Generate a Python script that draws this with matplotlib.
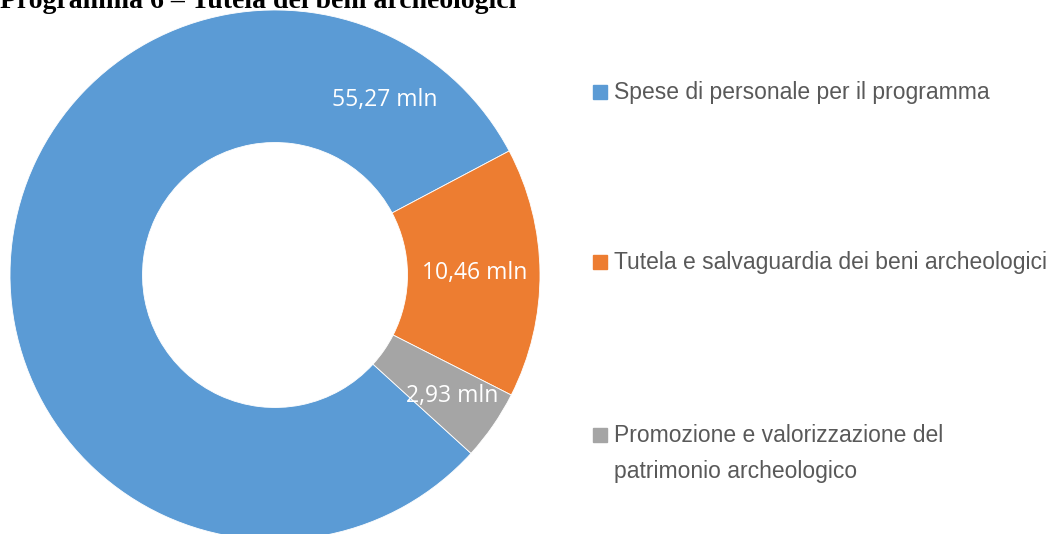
import matplotlib.pyplot as plt
import numpy as np

TITLE = "Programma 6 – Tutela dei beni archeologici"
CATEGORIES = [
    "Spese di personale per il programma",
    "Tutela e salvaguardia dei beni archeologici",
    "Promozione e valorizzazione del\npatrimonio archeologico",
]
VALUES = [55.27, 10.46, 2.93]
LABELS = ["55,27 mln", "10,46 mln", "2,93 mln"]
COLORS = ["#5B9BD5", "#ED7D31", "#A5A5A5"]

W, H = 1054, 534
fig = plt.figure(figsize=(W / 100, H / 100), dpi=100)

cx, cy, r = 275, 259, 265
ax = fig.add_axes([(cx - r) / W, (cy - r) / H, 2 * r / W, 2 * r / H])

start = 317.7
wedges, _ = ax.pie(
    VALUES,
    colors=COLORS,
    startangle=start,
    counterclock=False,
    radius=1.0,
    wedgeprops=dict(width=0.5, edgecolor="white", linewidth=0.6),
)
ax.set_xlim(-1, 1)
ax.set_ylim(-1, 1)
ax.set_aspect("equal")

# label positions: blue uses Excel's best-fit spot, others sit mid-wedge
label_pos = []
for w in wedges:
    mid = np.deg2rad((w.theta1 + w.theta2) / 2)
    label_pos.append((0.755 * np.cos(mid), 0.755 * np.sin(mid)))
label_pos[0] = (0.78 * np.cos(np.deg2rad(57.8)), 0.78 * np.sin(np.deg2rad(57.8)))
label_pos[2] = (0.81 * np.cos(np.deg2rad(-34.4)), 0.81 * np.sin(np.deg2rad(-34.4)))
for (x, y), lab in zip(label_pos, LABELS):
    ax.text(x, y, lab, ha="center", va="center", color="white",
            fontsize=16.5, family=["Open Sans", "DejaVu Sans"])

fig.text(0, 1 - 8 / H, TITLE, ha="left", va="baseline", fontsize=20,
         fontweight="bold", family=["Liberation Serif", "DejaVu Serif"])

leg_y = [92, 262, 435]
for name, col, y in zip(CATEGORIES, COLORS, leg_y):
    fig.patches.append(plt.Rectangle((593 / W, 1 - (y + 7) / H), 14 / W, 14 / H,
                                     transform=fig.transFigure, color=col))
    fig.text(614 / W, 1 - (y - 11) / H, name, ha="left", va="top",
             fontsize=16.5, color="#595959", linespacing=1.7,
             family=["Liberation Sans", "DejaVu Sans"])

fig.savefig("out.png", dpi=100)
